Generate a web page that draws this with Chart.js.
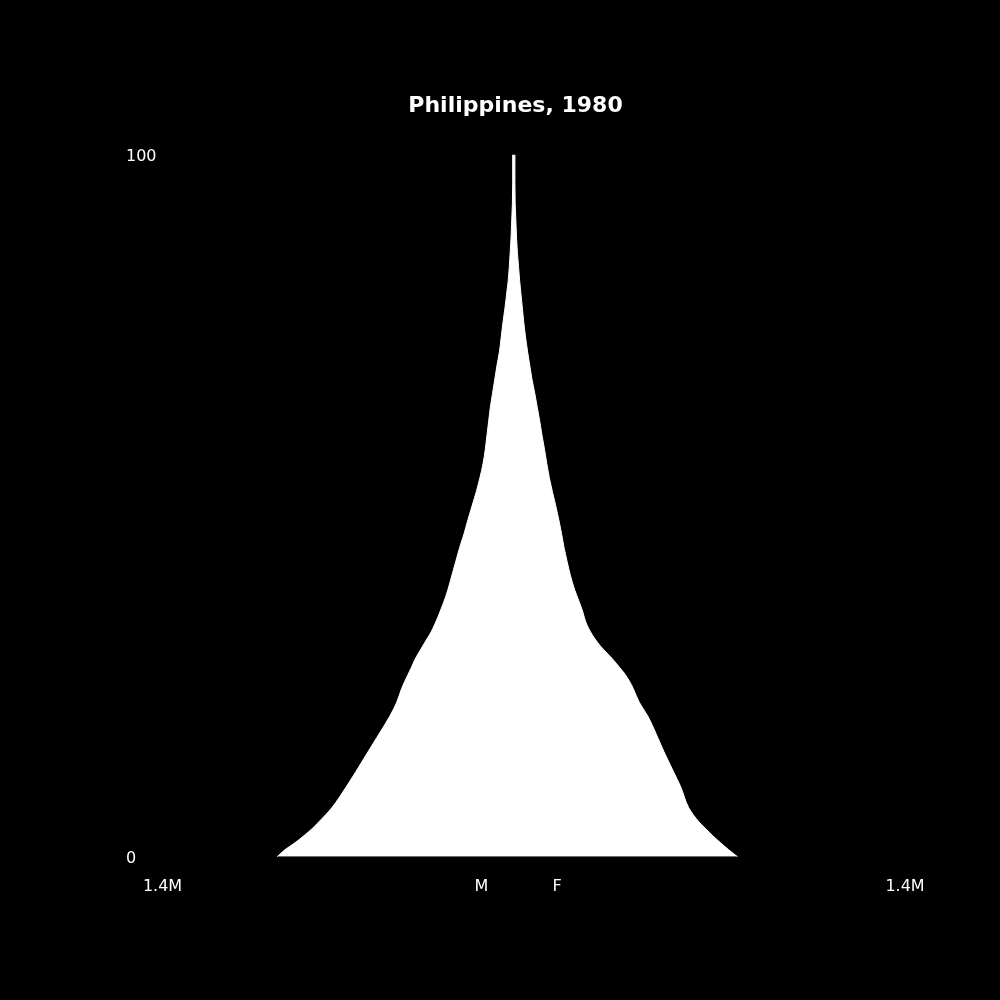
<!DOCTYPE html>
<html>
<head>
<meta charset="utf-8">
<title>Philippines, 1980</title>
<script src="https://cdn.jsdelivr.net/npm/chart.js@4.4.0/dist/chart.umd.min.js"></script>
<style>
    html, body { margin: 0; padding: 0; background: #000; }
    canvas { display: block; }
</style>
</head>
<body>
<canvas id="pyramid" width="1000" height="1000"></canvas>
<script>
// ages (years) and population by sex, in thousands
var ages   = [0, 1, 2, 3, 4, 5, 7, 10, 12, 15, 17, 20, 22, 24, 25, 26, 27, 28, 29, 30, 31, 32, 33, 34, 35, 36, 38, 40, 42, 44, 46, 48, 50, 52, 54, 56, 58, 60, 62, 64, 66, 68, 70, 72, 74, 76, 78, 80, 82, 84, 86, 88, 90, 93, 96, 100];
var male   = [847, 819, 783, 751, 722, 697, 651, 599, 567, 521, 490, 444, 419, 401, 390, 378, 366, 355, 341, 326, 311, 296, 284, 273, 263, 253, 236, 222, 208, 194, 178, 164, 149, 134, 121, 110, 102, 96, 90, 84, 76, 68, 60, 51, 45, 39, 32, 26, 20, 16, 13, 10, 8, 5, 4, 4];
var female = [801, 769, 740, 712, 687, 662, 626, 597, 573, 537, 515, 480, 449, 427, 414, 398, 378, 357, 334, 310, 291, 275, 262, 253, 246, 237, 218, 203, 191, 180, 171, 161, 150, 138, 127, 118, 110, 101, 93, 84, 75, 65, 57, 49, 42, 36, 31, 26, 21, 17, 13, 10, 8, 5, 4, 4];

var xTickValues = [-1257, -116, 155, 1400];
var xTickLabels = ['1.4M', 'M', 'F', '1.4M'];
var yTickValues = [0, 100];

var tickFont = { family: 'DejaVu Sans', size: 16 };

const data = {
    datasets: [{
        label: 'M',
        data: ages.map((a, i) => ({ x: -male[i], y: a })),
        fill: false,
        backgroundColor: '#ffffff',
        borderColor: '#ffffff',
        borderWidth: 1,
        pointRadius: 0,
        cubicInterpolationMode: 'monotone'
    }, {
        label: 'F',
        data: ages.map((a, i) => ({ x: female[i], y: a })),
        fill: 0,    // fill across to the male line
        backgroundColor: '#ffffff',
        borderColor: '#ffffff',
        borderWidth: 1,
        pointRadius: 0,
        cubicInterpolationMode: 'monotone'
    }]
};

const config = {
    type: 'line',
    data: data,
    options: {
        indexAxis: 'y',
        responsive: false,
        animation: false,
        layout: {
            padding: { left: 126, right: 95, top: 0, bottom: 84 }
        },
        plugins: {
            legend: { display: false },
            tooltip: { enabled: false },
            title: {
                display: true,
                text: 'Philippines, 1980',
                color: '#ffffff',
                font: { family: 'DejaVu Sans', size: 22, weight: 'bold' },
                padding: { top: 93, bottom: 35 }
            }
        },
        scales: {
            x: {
                type: 'linear',
                min: -1257,
                max: 1400,
                grid: { display: false, drawTicks: false },
                border: { display: false },
                afterBuildTicks: function (axis) {
                    axis.ticks = xTickValues.map(v => ({ value: v }));
                },
                ticks: {
                    color: '#ffffff',
                    font: tickFont,
                    padding: 20,
                    autoSkip: false,
                    maxRotation: 0,
                    callback: function (value, index) {
                        return xTickLabels[index];
                    }
                }
            },
            y: {
                type: 'linear',
                min: 0,
                max: 100,
                grid: { display: false, drawTicks: false },
                border: { display: false },
                afterBuildTicks: function (axis) {
                    axis.ticks = yTickValues.map(v => ({ value: v }));
                },
                ticks: {
                    color: '#ffffff',
                    font: tickFont,
                    padding: 3,
                    labelOffset: 2,
                    crossAlign: 'far'
                }
            }
        }
    }
};

let ctx = document.getElementById('pyramid').getContext('2d');
new Chart(ctx, config);
</script>
</body>
</html>
